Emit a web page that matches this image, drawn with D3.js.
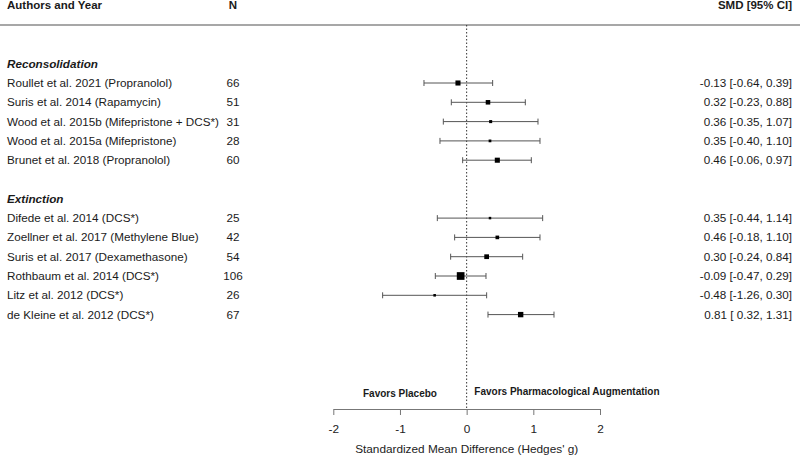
<!DOCTYPE html>
<html>
<head>
<meta charset="utf-8">
<script src="https://cdn.jsdelivr.net/npm/d3@7"></script>
<style>
  body { margin: 0; background: #fff; }
  svg { font-family: "Liberation Sans", Arial, sans-serif; }
</style>
</head>
<body>
<div id="forest"></div>
<script>
// data
var groups = ["Reconsolidation", "Extinction"];
var studies = [
    "Roullet et al. 2021 (Propranolol)",
    "Suris et al. 2014 (Rapamycin)",
    "Wood et al. 2015b (Mifepristone + DCS*)",
    "Wood et al. 2015a (Mifepristone)",
    "Brunet et al. 2018 (Propranolol)",
    "Difede et al. 2014 (DCS*)",
    "Zoellner et al. 2017 (Methylene Blue)",
    "Suris et al. 2017 (Dexamethasone)",
    "Rothbaum et al. 2014 (DCS*)",
    "Litz et al. 2012 (DCS*)",
    "de Kleine et al. 2012 (DCS*)"
];
var studyGroup = [0, 0, 0, 0, 0, 1, 1, 1, 1, 1, 1];
var sampleN = [66, 51, 31, 28, 60, 25, 42, 54, 106, 26, 67];
var smd = [-0.13, 0.32, 0.36, 0.35, 0.46, 0.35, 0.46, 0.30, -0.09, -0.48, 0.81];
var ciLow = [-0.64, -0.23, -0.35, -0.40, -0.06, -0.44, -0.18, -0.24, -0.47, -1.26, 0.32];
var ciHigh = [0.39, 0.88, 1.07, 1.10, 0.97, 1.14, 1.10, 0.84, 0.29, 0.30, 1.31];
var axisTicks = [-2, -1, 0, 1, 2];

var width = 800;
var height = 458;

var svg = d3.select('#forest')
    .append('svg')
    .attr('width', width)
    .attr('height', height);

// row layout: group header, studies, one blank row, next header ...
var rows = [];
var headerRows = [];
var r = 0;
groups.forEach(function(g, gi) {
    headerRows.push({name: g, row: r});
    r++;
    studies.forEach(function(s, i) {
        if (studyGroup[i] !== gi) return;
        rows.push({
            name: s, n: sampleN[i], est: smd[i], lb: ciLow[i], ub: ciHigh[i],
            w: 3.92 / (ciHigh[i] - ciLow[i]), row: r
        });
        r++;
    });
    r++;
});
var lastRow = r - 2;

var x_scale = d3.scaleLinear().domain([-2, 2]).range([333.3, 600]);
var y_scale = d3.scaleLinear().domain([0, lastRow]).range([63.7, 314.6]);
var size_scale = d3.scaleLinear()
    .domain(d3.extent(rows, function(d) { return d.w; }))
    .range([2.5, 7.7]);

var axisY = 409;
var textColor = '#1a1a1a';
var rowFont = '11.7px';

function fmt(v) { return v.toFixed(2); }
function ciText(d) {
    return fmt(d.est) + ' [' + (d.lb >= 0 ? ' ' : '') + fmt(d.lb) + ', ' + fmt(d.ub) + ']';
}

// column headers
var head = svg.append('g')
    .attr('font-size', '11.5px')
    .attr('font-weight', 'bold')
    .attr('fill', textColor);
head.append('text').attr('x', 7).attr('y', 9).text('Authors and Year');
head.append('text').attr('x', 233).attr('y', 9).attr('text-anchor', 'middle').text('N');
head.append('text').attr('x', 792).attr('y', 9).attr('text-anchor', 'end').text('SMD [95% CI]');

svg.append('line')
    .attr('x1', 0).attr('x2', width)
    .attr('y1', 25).attr('y2', 25)
    .attr('stroke', '#8a8a8a')
    .attr('stroke-width', 1.6);

// reference line at zero
svg.append('line')
    .attr('x1', x_scale(0)).attr('x2', x_scale(0))
    .attr('y1', 25).attr('y2', axisY)
    .attr('stroke', '#333')
    .attr('stroke-width', 1)
    .attr('stroke-dasharray', '1.5,2');

// group headers
svg.selectAll('.group')
    .data(headerRows)
    .enter()
    .append('text')
    .attr('class', 'group')
    .attr('x', 7)
    .attr('y', function(d) { return y_scale(d.row) + 4; })
    .attr('font-size', rowFont)
    .attr('font-weight', 'bold')
    .attr('font-style', 'italic')
    .attr('fill', textColor)
    .text(function(d) { return d.name; });

var study = svg.selectAll('.study')
    .data(rows)
    .enter()
    .append('g')
    .attr('class', 'study')
    .attr('transform', function(d) { return 'translate(0,' + y_scale(d.row) + ')'; });

study.append('text')
    .attr('x', 7).attr('y', 4)
    .attr('font-size', rowFont)
    .attr('fill', textColor)
    .text(function(d) { return d.name; });

study.append('text')
    .attr('x', 233).attr('y', 4)
    .attr('text-anchor', 'middle')
    .attr('font-size', rowFont)
    .attr('fill', textColor)
    .text(function(d) { return d.n; });

study.append('text')
    .attr('x', 792).attr('y', 4)
    .attr('text-anchor', 'end')
    .attr('font-size', rowFont)
    .attr('fill', textColor)
    .style('white-space', 'pre')
    .text(ciText);

// confidence intervals
study.append('line')
    .attr('x1', function(d) { return x_scale(d.lb); })
    .attr('x2', function(d) { return x_scale(d.ub); })
    .attr('y1', 0).attr('y2', 0)
    .attr('stroke', '#555').attr('stroke-width', 1);
study.append('line')
    .attr('x1', function(d) { return x_scale(d.lb); })
    .attr('x2', function(d) { return x_scale(d.lb); })
    .attr('y1', -3).attr('y2', 3)
    .attr('stroke', '#555').attr('stroke-width', 1);
study.append('line')
    .attr('x1', function(d) { return x_scale(d.ub); })
    .attr('x2', function(d) { return x_scale(d.ub); })
    .attr('y1', -3).attr('y2', 3)
    .attr('stroke', '#555').attr('stroke-width', 1);

// point estimates, size by precision
study.append('rect')
    .attr('x', function(d) { return x_scale(d.est) - size_scale(d.w) / 2; })
    .attr('y', function(d) { return -size_scale(d.w) / 2; })
    .attr('width', function(d) { return size_scale(d.w); })
    .attr('height', function(d) { return size_scale(d.w); })
    .attr('fill', '#000');

// x axis
var x_axis = d3.axisBottom(x_scale)
    .tickValues(axisTicks)
    .tickFormat(d3.format('d'))
    .tickSize(6)
    .tickSizeOuter(0)
    .tickPadding(10);

var ax = svg.append('g')
    .attr('transform', 'translate(0,' + axisY + ')')
    .call(x_axis);
ax.select('.domain').attr('stroke', '#777');
ax.selectAll('.tick line').attr('stroke', '#777');
ax.selectAll('.tick text')
    .attr('font-size', '11.8px')
    .attr('font-family', '"Liberation Sans", Arial, sans-serif')
    .attr('fill', '#222')
    .text(function(d) { return d < 0 ? '-' + Math.abs(d) : d; });

svg.append('text')
    .attr('x', x_scale(0))
    .attr('y', 453)
    .attr('text-anchor', 'middle')
    .attr('font-size', '11.8px')
    .attr('fill', '#222')
    .text("Standardized Mean Difference (Hedges' g)");

// direction labels
svg.append('text')
    .attr('x', x_scale(-1))
    .attr('y', 397)
    .attr('text-anchor', 'middle')
    .attr('font-size', '10px')
    .attr('font-weight', 'bold')
    .attr('fill', textColor)
    .text('Favors Placebo');

svg.append('text')
    .attr('x', x_scale(0.115))
    .attr('y', 395)
    .attr('font-size', '10px')
    .attr('font-weight', 'bold')
    .attr('fill', textColor)
    .text('Favors Pharmacological Augmentation');
</script>
</body>
</html>
